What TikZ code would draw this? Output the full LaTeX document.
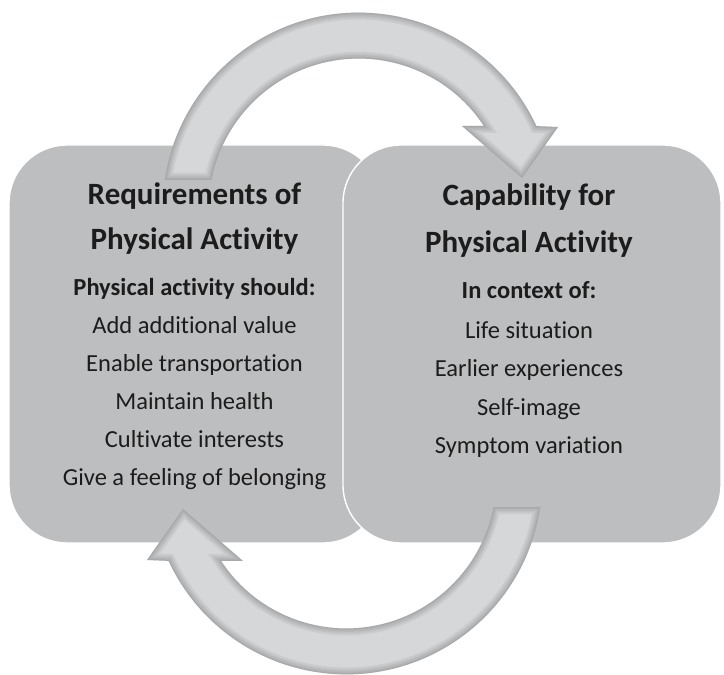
\documentclass[tikz,border=0pt]{standalone}
\usepackage{fontspec}
\setmainfont[Ligatures=NoCommon]{Carlito}
\definecolor{panelgray}{RGB}{189,190,192}
\definecolor{arrowgray}{RGB}{214,215,217}
\definecolor{edgegray}{RGB}{120,121,124}
\definecolor{ink}{RGB}{28,28,28}
\begin{document}
\begin{tikzpicture}[x=1pt,y=1pt,
  panel/.style={fill=panelgray, draw=white, line width=1.4pt, rounded corners=58pt,
    minimum width=372pt, minimum height=398pt, inner sep=0pt},
  heading/.style={font=\bfseries\fontsize{31}{36}\selectfont, text=ink, anchor=base, inner sep=0pt},
  lead/.style={font=\bfseries\fontsize{24.5}{29}\selectfont, text=ink, anchor=base, inner sep=0pt},
  item/.style={font=\fontsize{24.5}{29}\selectfont, text=ink, anchor=base, inner sep=0pt},
  bevel/.style={draw=edgegray, opacity=0.12, line join=miter},
]
\useasboundingbox (0,0) rectangle (724,675);

% the two overlapping panels
\node[panel] (req) at (195,331) {};
\node[panel, minimum width=378pt] (cap) at (532,331) {};

% cycle arrows (annular sectors with a head)
\def\toparrow{(164.8,495) arc[start angle=171.6, end angle=24.9, radius=196pt]
  -- (558,548) -- (522,497) -- (462,549) -- (483.9,549)
  arc[start angle=33.4, end angle=169.0, radius=150pt] -- cycle}
\def\bottomarrow{(540.2,168) arc[start angle=-8.4, end angle=-155.1, radius=196pt]
  -- (147,115) -- (183,166) -- (243,114) -- (221.1,114)
  arc[start angle=-146.6, end angle=-11.0, radius=150pt] -- cycle}

\fill[arrowgray] \toparrow;
\begin{scope}
  \clip \toparrow;
  \foreach \w in {14,10,7,4,2} {\draw[bevel, line width=\w pt] \toparrow;}
\end{scope}

\fill[arrowgray] \bottomarrow;
\begin{scope}
  \clip \bottomarrow;
  \foreach \w in {14,10,7,4,2} {\draw[bevel, line width=\w pt] \bottomarrow;}
\end{scope}

% left panel text
\node[heading] (reqA) at (194.5,470) {Requirements of};
\node[heading] (reqB) at (194.5,425) {Physical Activity};
\node[lead]    (reqC) at (194.5,379) {Physical activity should:};
\node[item]    (req1) at (194.5,341.7) {Add additional value};
\node[item]    (req2) at (194.5,303.3) {Enable transportation};
\node[item]    (req3) at (194.5,265.7) {Maintain health};
\node[item]    (req4) at (194.5,227.7) {Cultivate interests};
\node[item]    (req5) at (194.5,189) {Give a feeling of belonging};

% right panel text
\node[heading] (capA) at (529,469) {Capability for};
\node[heading] (capB) at (529,422.3) {Physical Activity};
\node[lead]    (capC) at (529,376.7) {In context of:};
\node[item]    (cap1) at (529,336) {Life situation};
\node[item]    (cap2) at (529,298.3) {Earlier experiences};
\node[item]    (cap3) at (529,259.3) {Self-image};
\node[item]    (cap4) at (529,221.7) {Symptom variation};
\end{tikzpicture}
\end{document}
